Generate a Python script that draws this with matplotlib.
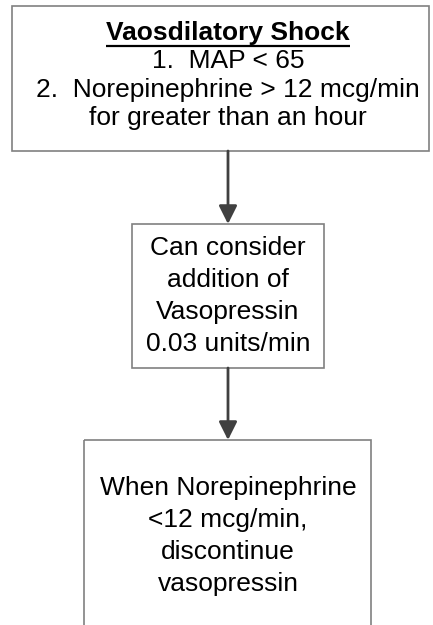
import matplotlib
matplotlib.use("Agg")
import matplotlib.pyplot as plt
from matplotlib.patches import Rectangle

plt.rcParams['font.family'] = ['Liberation Sans', 'DejaVu Sans']

title = "Vaosdilatory Shock"
box1_lines = ["1.  MAP < 65", "2.  Norepinephrine > 12 mcg/min", "for greater than an hour"]
box2_lines = ["Can consider", "addition of", "Vasopressin", "0.03 units/min"]
box3_lines = ["When Norepinephrine", "<12 mcg/min,", "discontinue", "vasopressin"]

W, H = 433, 625
fig = plt.figure(figsize=(W / 100, H / 100), dpi=100)
ax = fig.add_axes([0, 0, 1, 1])
ax.set_xlim(0, W)
ax.set_ylim(H, 0)
ax.axis('off')

edge = '#808080'
arrow_c = '#404040'
fs = 19

# boxes (x0, y0, x1, y1) in pixels; the last one runs off the bottom
boxes = [(12, 6, 429, 151), (132, 224, 324, 368), (84, 440, 371, 640)]
for x0, y0, x1, y1 in boxes:
    ax.add_patch(Rectangle((x0, y0), x1 - x0, y1 - y0, fill=False,
                           edgecolor=edge, linewidth=1.2))

cx = 228
# box 1 text
t = ax.text(cx, 33, title, ha='center', va='center', fontsize=fs, fontweight='bold')
for i, s in enumerate(box1_lines):
    ax.text(cx, 33 + 28.5 * (i + 1), s, ha='center', va='center', fontsize=fs)

# box 2 text
for i, s in enumerate(box2_lines):
    ax.text(cx, 248 + 32 * i, s, ha='center', va='center', fontsize=fs)

# box 3 text
for i, s in enumerate(box3_lines):
    ax.text(cx, 488 + 32 * i, s, ha='center', va='center', fontsize=fs)

# arrows
for ys, ye in [(151, 224), (368, 440)]:
    ax.annotate('', xy=(cx, ye), xytext=(cx, ys),
                arrowprops=dict(arrowstyle='-|>,head_length=1.1,head_width=0.55',
                                color=arrow_c, lw=2, shrinkA=0, shrinkB=0))

# underline the title
fig.canvas.draw()
bb = t.get_window_extent().transformed(ax.transData.inverted())
ax.plot([bb.x0, bb.x1], [46, 46], color='black', lw=1.6, solid_capstyle='butt')

fig.savefig('out.png', dpi=100)
